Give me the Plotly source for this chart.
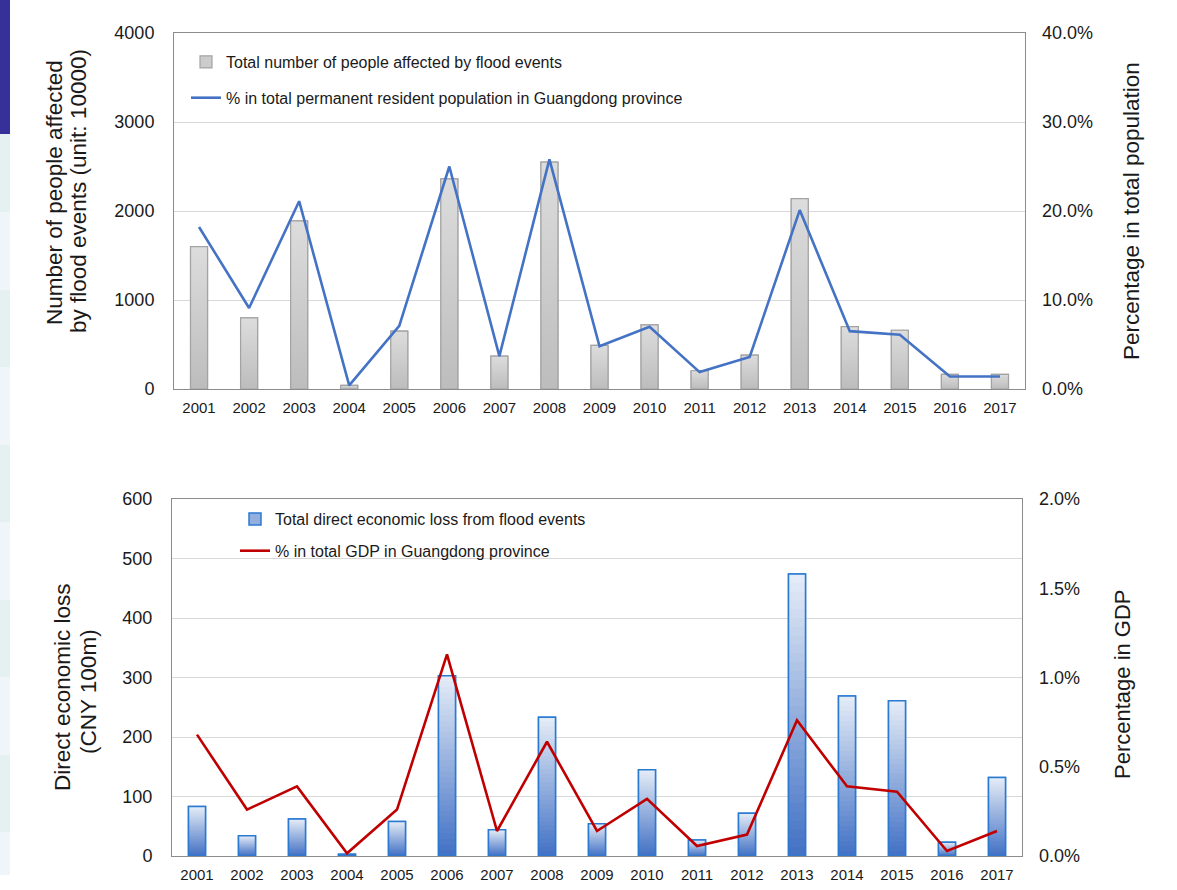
import plotly.graph_objects as go

# ---------------- data ----------------
years = list(range(2001, 2018))
people_affected = [1600, 800, 1890, 40, 650, 2360, 370, 2550, 490, 720, 205, 380, 2140, 700, 660, 165, 165]
people_pct = [18.2, 9.1, 21.1, 0.4, 7.1, 25.0, 3.7, 25.8, 4.8, 7.0, 1.9, 3.6, 20.1, 6.5, 6.1, 1.4, 1.4]
econ_loss = [83, 34, 62, 3, 58, 303, 44, 233, 54, 145, 27, 72, 474, 269, 261, 23, 132]
gdp_pct = [0.68, 0.26, 0.39, 0.015, 0.26, 1.13, 0.14, 0.64, 0.14, 0.32, 0.056, 0.12, 0.76, 0.39, 0.36, 0.028, 0.14]

name_people = "Total number of people affected by flood events"
name_people_pct = "% in total permanent resident population in Guangdong province"
name_loss = "Total direct economic loss from flood events"
name_gdp = "% in total GDP in Guangdong province"

title_top_left = ["Number of people affected", "by flood events (unit: 10000)"]
title_top_right = "Percentage in total population"
title_bot_left = ["Direct economic loss", "(CNY 100m)"]
title_bot_right = "Percentage in GDP"

# ---------------- style ----------------
W, H = 1177, 890
FONT = "Arial, Liberation Sans, sans-serif"
TXT = "#1a1a1a"
FRAME = "#8c8c8c"
GRID = "#d9d9d9"
BW = 0.34
N = 32


def px_x(p):
    return p / W


def px_y(p):
    return 1 - p / H


def hex2rgb(h):
    h = h.lstrip("#")
    return tuple(int(h[i:i + 2], 16) for i in (0, 2, 4))


def lerp(c1, c2, t):
    a, b = hex2rgb(c1), hex2rgb(c2)
    return "rgb(%d,%d,%d)" % tuple(round(a[i] + (b[i] - a[i]) * t) for i in range(3))


fig = go.Figure()


def add_bars(xa, ya, values, light, dark, outline, lw, name, legend):
    fig.add_trace(go.Bar(
        x=years, y=values, width=BW, name=name, legend=legend, legendgroup=name,
        marker=dict(color=lerp(light, dark, 0.5), line=dict(color=outline, width=lw)),
        xaxis=xa, yaxis=ya))
    for k in range(N):
        frac = 1 - k / N
        fig.add_trace(go.Bar(
            x=years, y=[v * frac for v in values], width=BW, showlegend=False,
            hoverinfo="skip",
            marker=dict(color=lerp(light, dark, (k + 0.5) / N), line=dict(width=0)),
            xaxis=xa, yaxis=ya))
    fig.add_trace(go.Bar(
        x=years, y=values, width=BW, showlegend=False, hoverinfo="skip",
        marker=dict(color="rgba(0,0,0,0)", line=dict(color=outline, width=lw)),
        xaxis=xa, yaxis=ya))


# top panel
add_bars("x", "y", people_affected, "#dcdcdc", "#bdbdbd", "#a3a3a3", 1.2, name_people, "legend")
fig.add_trace(go.Scatter(
    x=years, y=people_pct, mode="lines", name=name_people_pct, legend="legend",
    legendgroup=name_people_pct, line=dict(color="#4472c4", width=2.6),
    xaxis="x", yaxis="y2"))

# bottom panel
add_bars("x2", "y3", econ_loss, "#e6edf7", "#4170c4", "#2a7ad2", 1.5, name_loss, "legend2")
fig.add_trace(go.Scatter(
    x=years, y=gdp_pct, mode="lines", name=name_gdp, legend="legend2",
    legendgroup=name_gdp, line=dict(color="#c00000", width=2.6),
    xaxis="x2", yaxis="y4"))

tick_y = dict(size=18, family=FONT, color=TXT)
tick_x = dict(size=15, family=FONT, color=TXT)

xcommon = dict(range=[2000.5, 2017.5], tickmode="array", tickvals=years,
               ticktext=[str(y) for y in years], showline=True, linecolor=FRAME,
               linewidth=1, mirror=True, showgrid=False, zeroline=False,
               ticks="", tickfont=tick_x, ticklabelstandoff=5, automargin=False)
yleft = dict(showline=True, linecolor=FRAME, linewidth=1, mirror=True,
             showgrid=True, gridcolor=GRID, gridwidth=1, zeroline=False,
             ticks="", tickfont=tick_y, ticklabelstandoff=15, automargin=False)
yright = dict(showline=False, showgrid=False, zeroline=False, ticks="",
              tickfont=tick_y, ticklabelstandoff=16, side="right",
              ticksuffix="%", tickformat=".1f", automargin=False)

fig.update_layout(
    width=W, height=H,
    margin=dict(l=0, r=0, t=0, b=0, autoexpand=False),
    paper_bgcolor="white", plot_bgcolor="white",
    barmode="overlay",
    font=dict(family=FONT, color=TXT),
    xaxis=dict(domain=[px_x(174), px_x(1025)], anchor="y", **xcommon),
    yaxis=dict(domain=[px_y(389), px_y(33)], anchor="x", range=[0, 4000],
               dtick=1000, tick0=0, **yleft),
    yaxis2=dict(overlaying="y", anchor="x", range=[0, 40], dtick=10, tick0=0, **yright),
    xaxis2=dict(domain=[px_x(172), px_x(1022)], anchor="y3", **xcommon),
    yaxis3=dict(domain=[px_y(856), px_y(499)], anchor="x2", range=[0, 600],
                dtick=100, tick0=0, **yleft),
    yaxis4=dict(overlaying="y3", anchor="x2", range=[0, 2], dtick=0.5, tick0=0, **yright),
    legend=dict(x=px_x(186), y=px_y(45), xanchor="left", yanchor="top",
                bgcolor="rgba(0,0,0,0)", font=dict(size=16, family=FONT, color=TXT),
                tracegroupgap=12, traceorder="grouped"),
    legend2=dict(x=px_x(235), y=px_y(502), xanchor="left", yanchor="top",
                 bgcolor="rgba(0,0,0,0)", font=dict(size=16, family=FONT, color=TXT),
                 tracegroupgap=8, traceorder="grouped"),
    showlegend=True,
)

ann_font = dict(size=22.5, family=FONT, color=TXT)


def vtitle(text, xpix, ypix, size=22.5):
    fig.add_annotation(text=text, x=px_x(xpix), y=px_y(ypix), xref="paper", yref="paper",
                       textangle=-90, showarrow=False,
                       font=dict(size=size, family=FONT, color=TXT),
                       xanchor="center", yanchor="middle")


vtitle(title_top_left[0], 54, 193)
vtitle(title_top_left[1], 78, 191)
vtitle(title_top_right, 1131, 211)
vtitle(title_bot_left[0], 62, 687)
vtitle(title_bot_left[1], 88, 692)
vtitle(title_bot_right, 1122, 684, 22)

# left-edge slide decoration
shapes = [dict(type="rect", xref="paper", yref="paper", x0=0, x1=px_x(10),
               y0=px_y(134), y1=1, fillcolor="#35309a", line=dict(width=0), layer="below")]
edges = [134, 212, 290, 367, 445, 522, 600, 677, 755, 832, 875]
for i in range(len(edges) - 1):
    shapes.append(dict(type="rect", xref="paper", yref="paper", x0=0, x1=px_x(10),
                       y0=px_y(edges[i + 1]), y1=px_y(edges[i]),
                       fillcolor="#e5f1f1" if i % 2 == 0 else "#eff5f8",
                       line=dict(width=0), layer="below"))
fig.update_layout(shapes=shapes)

fig.write_html("out.html", config={"displayModeBar": False},
               post_script="document.body.style.margin='0';")
